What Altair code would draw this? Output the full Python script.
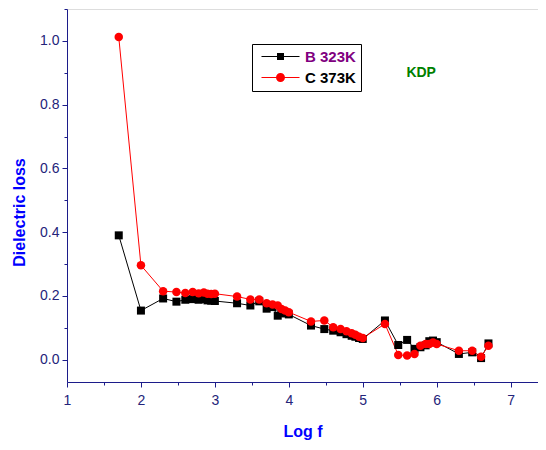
import altair as alt
import pandas as pd

# ---- data ----
log_f = [1.7, 2.0, 2.3, 2.48, 2.6, 2.7, 2.78, 2.85, 2.9, 2.95, 3.0, 3.3, 3.48, 3.6,
         3.7, 3.78, 3.85, 3.9, 3.95, 4.0, 4.3, 4.48, 4.6, 4.7, 4.78, 4.85, 4.9, 4.95,
         5.0, 5.3, 5.48, 5.6, 5.7, 5.78, 5.85, 5.9, 5.95, 6.0, 6.3, 6.48, 6.6, 6.7]
loss_b = [0.39, 0.154, 0.192, 0.182, 0.188, 0.19, 0.188, 0.19, 0.186, 0.185, 0.184,
          0.177, 0.17, 0.183, 0.16, 0.165, 0.138, 0.148, 0.145, 0.142, 0.107, 0.096,
          0.091, 0.086, 0.08, 0.075, 0.072, 0.068, 0.065, 0.123, 0.046, 0.062, 0.034,
          0.039, 0.045, 0.058, 0.06, 0.055, 0.018, 0.023, 0.005, 0.051]
loss_c = [1.012, 0.296, 0.215, 0.212, 0.209, 0.212, 0.208, 0.211, 0.207, 0.206, 0.207,
          0.198, 0.189, 0.189, 0.177, 0.173, 0.17, 0.159, 0.154, 0.149, 0.12, 0.123,
          0.102, 0.096, 0.089, 0.083, 0.078, 0.072, 0.068, 0.112, 0.015, 0.013, 0.018,
          0.044, 0.049, 0.049, 0.054, 0.049, 0.028, 0.028, 0.009, 0.044]
series_names = ["B 323K", "C 373K"]
series_colors = ["#000000", "#ff0000"]
x_major = [1, 2, 3, 4, 5, 6, 7]
x_minor = [1.5, 2.5, 3.5, 4.5, 5.5, 6.5]
y_major = [0.0, 0.2, 0.4, 0.6, 0.8, 1.0]
y_minor = [0.1, 0.3, 0.5, 0.7, 0.9, 1.1]
annot_text = ["KDP"]
annot_x = [5.79]
annot_y = [0.90]

rows = []
for name, vals in zip(series_names, [loss_b, loss_c]):
    for xv, yv in zip(log_f, vals):
        rows.append({"x": xv, "y": yv, "series": name})
df = pd.DataFrame(rows)
annot = pd.DataFrame({"x": annot_x, "y": annot_y, "t": annot_text})

FONT = "Liberation Sans"
AXC = "#1c1c8a"
LBC = "#24247a"

xscale = alt.Scale(domain=[1, 7.37], nice=False, zero=False)
yscale = alt.Scale(domain=[-0.07, 1.1], nice=False, zero=False)

x_axis_major = alt.Axis(values=x_major, format="d", orient="bottom", tickSize=5,
                        tickColor=AXC, domainColor=AXC, labelColor=LBC, labelFontSize=14,
                        labelPadding=6, grid=False, title="Log f", titleColor="#0000ff",
                        titleFontSize=16, titleFontWeight="bold", titleY=41,
                        titleBaseline="top", labelFlush=False)
y_axis_major = alt.Axis(values=y_major, format=".1f", orient="left", tickSize=5,
                        tickColor=AXC, domainColor=AXC, labelColor=LBC, labelFontSize=14,
                        labelPadding=3, grid=False, title="Dielectric loss",
                        titleColor="#0000ff", titleFontSize=16, titleFontWeight="bold",
                        titleX=-40, titleY=203, titleBaseline="bottom", titleAngle=-90)
x_axis_minor = alt.Axis(values=x_minor, orient="bottom", tickSize=3, tickColor=AXC,
                        domain=False, labels=False, grid=False, title=None)
y_axis_minor = alt.Axis(values=y_minor, orient="left", tickSize=3, tickColor=AXC,
                        domain=False, labels=False, grid=False, title=None)

base = alt.Chart(df)

def series_layers(name, color, shape, size, xa, ya):
    d = base.transform_filter(alt.datum.series == name)
    line = d.mark_line(color=color, strokeWidth=1).encode(
        x=alt.X("x:Q", scale=xscale, axis=xa),
        y=alt.Y("y:Q", scale=yscale, axis=ya),
    )
    pts = d.mark_point(filled=True, shape=shape, size=size, color=color, opacity=1).encode(
        x=alt.X("x:Q", scale=xscale, axis=None),
        y=alt.Y("y:Q", scale=yscale, axis=None),
    )
    return line, pts

lb, pb = series_layers("B 323K", "#000000", "square", 64, x_axis_major, y_axis_major)
lc, pc = series_layers("C 373K", "#ff0000", "circle", 72, x_axis_minor, y_axis_minor)

# legend symbols: line - marker - line (unit = 7 px)
sq_path = "M-0.43,-0.071H5V0.071H-0.43Z M1.786,-0.5H2.786V0.5H1.786Z"
ci_path = ("M-0.43,-0.071H5V0.071H-0.43Z M2.929,0A0.643,0.643 0 1,1 1.643,0"
           "A0.643,0.643 0 1,1 2.929,0Z")

legend = alt.Legend(title=None, orient="none", legendX=185, legendY=35, padding=5,
                    strokeColor="#000000", symbolSize=196, symbolStrokeWidth=0,
                    labelFont=FONT, labelFontSize=15, labelFontWeight="bold",
                    labelOffset=33, rowPadding=5,
                    labelColor={"expr": "datum.label === 'B 323K' ? '#800080' : '#000000'"})

leg_layer = base.transform_filter("false").mark_point(filled=True, opacity=1).encode(
    x=alt.X("x:Q", scale=xscale, axis=None),
    y=alt.Y("y:Q", scale=yscale, axis=None),
    color=alt.Color("series:N", scale=alt.Scale(domain=series_names, range=series_colors),
                    legend=legend),
    shape=alt.Shape("series:N", scale=alt.Scale(domain=series_names, range=[sq_path, ci_path]),
                    legend=legend),
)

text = alt.Chart(annot).mark_text(color="#008000", font=FONT, fontSize=14,
                                  fontWeight="bold").encode(
    x=alt.X("x:Q", scale=xscale, axis=None),
    y=alt.Y("y:Q", scale=yscale, axis=None),
    text="t:N",
)

chart = alt.layer(lb, lc, pb, pc, leg_layer, text).resolve_axis(
    x="independent", y="independent"
).properties(
    width=471, height=373,
    autosize=alt.AutoSizeParams(type="none"),
    padding={"left": 59, "top": 1, "right": 0, "bottom": 60},
).configure_view(stroke=None).configure(font=FONT).configure_axis(
    labelFont=FONT, titleFont=FONT
)

chart.save("out.html", embed_options={"renderer": "svg", "actions": False})
